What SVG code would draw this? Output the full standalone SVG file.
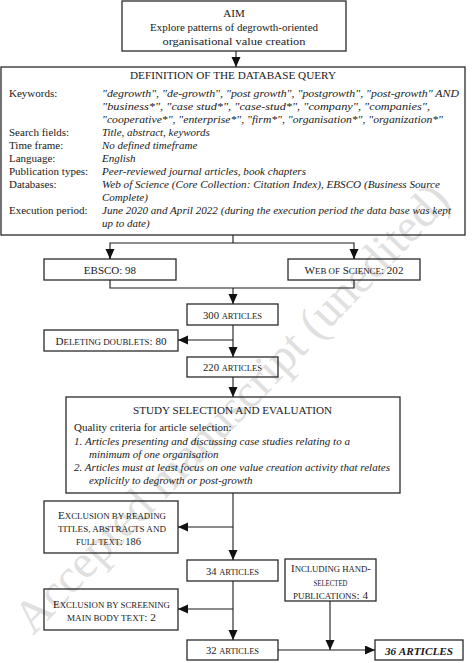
<svg xmlns="http://www.w3.org/2000/svg" width="474" height="663" viewBox="0 0 474 663">
<style>
text{font-family:"Liberation Serif","Times New Roman",serif;font-size:11px;fill:#1a1a1a}
.c{text-anchor:middle}
.i{font-style:italic}
.b{font-weight:bold}
.s{font-size:8.8px}
.box{fill:none;stroke:#2a2a2a;stroke-width:1.3}
.ln{fill:none;stroke:#1a1a1a;stroke-width:1.1}
.wm{font-size:47px;fill:#e0e0e0}
</style>
<defs>
<marker id="ah" markerUnits="userSpaceOnUse" markerWidth="10" markerHeight="10" refX="10" refY="4.5" orient="auto">
<path d="M0,0 L10,4.5 L0,9 z" fill="#111"/>
</marker>
</defs>
<rect width="474" height="663" fill="#fff"/>
<text class="wm" transform="translate(33,636) rotate(-46)">Accepted manuscript (unedited)</text>

<g id="aim">
<rect class="box" x="122" y="1" width="224" height="50"/>
<text class="c" x="234" y="17">AIM</text>
<text class="c" x="234" y="31" textLength="168" lengthAdjust="spacingAndGlyphs">Explore patterns of degrowth-oriented</text>
<text class="c" x="234" y="45" textLength="143" lengthAdjust="spacingAndGlyphs">organisational value creation</text>
</g>

<g id="query">
<rect class="box" x="1" y="67" width="464" height="168" stroke-width="1.6"/>
<text class="c" x="233" y="79" textLength="206" lengthAdjust="spacingAndGlyphs">DEFINITION OF THE DATABASE QUERY</text>
<text x="9" y="97">Keywords:</text>
<text class="i" x="102" y="97" textLength="357" lengthAdjust="spacingAndGlyphs">"degrowth", "de-growth", "post growth", "postgrowth", "post-growth" AND</text>
<text class="i" x="102" y="110" textLength="328" lengthAdjust="spacingAndGlyphs">"business*", "case stud*", "case-stud*", "company", "companies",</text>
<text class="i" x="102" y="123" textLength="341" lengthAdjust="spacingAndGlyphs">"cooperative*", "enterprise*", "firm*", "organisation*", "organization*"</text>
<text x="9" y="136">Search fields:</text>
<text class="i" x="102" y="136">Title, abstract, keywords</text>
<text x="9" y="149">Time frame:</text>
<text class="i" x="102" y="149">No defined timeframe</text>
<text x="9" y="162">Language:</text>
<text class="i" x="102" y="162">English</text>
<text x="9" y="175">Publication types:</text>
<text class="i" x="102" y="175" textLength="204" lengthAdjust="spacingAndGlyphs">Peer-reviewed journal articles, book chapters</text>
<text x="9" y="188">Databases:</text>
<text class="i" x="102" y="188" textLength="338" lengthAdjust="spacingAndGlyphs">Web of Science (Core Collection: Citation Index), EBSCO (Business Source</text>
<text class="i" x="102" y="201">Complete)</text>
<text x="9" y="214">Execution period:</text>
<text class="i" x="102" y="214" textLength="349" lengthAdjust="spacingAndGlyphs">June 2020 and April 2022 (during the execution period the data base was kept</text>
<text class="i" x="102" y="227">up to date)</text>
</g>

<g id="ebsco">
<rect class="box" x="44" y="259" width="132" height="21"/>
<text class="c" x="110" y="273.5">EBSCO: 98</text>
</g>
<g id="wos">
<rect class="box" x="288" y="259" width="132" height="21"/>
<text class="c" x="354" y="273.5" textLength="99" lengthAdjust="spacingAndGlyphs">W<tspan class="s">EB OF</tspan> S<tspan class="s">CIENCE</tspan>: 202</text>
</g>
<g id="n300">
<rect class="box" x="187" y="304" width="91" height="21"/>
<text class="c" x="232.5" y="318.5" textLength="59" lengthAdjust="spacingAndGlyphs">300 <tspan class="s">ARTICLES</tspan></text>
</g>
<g id="doublets">
<rect class="box" x="44" y="330" width="134" height="21"/>
<text class="c" x="111" y="344.5" textLength="111" lengthAdjust="spacingAndGlyphs">D<tspan class="s">ELETING DOUBLETS</tspan>: 80</text>
</g>
<g id="n220">
<rect class="box" x="187" y="357" width="91" height="20"/>
<text class="c" x="232.5" y="371" textLength="59" lengthAdjust="spacingAndGlyphs">220 <tspan class="s">ARTICLES</tspan></text>
</g>

<g id="selection">
<rect class="box" x="66" y="397" width="334" height="96"/>
<text class="c" x="232.5" y="414" textLength="199" lengthAdjust="spacingAndGlyphs">STUDY SELECTION AND EVALUATION</text>
<text x="74" y="431">Quality criteria for article selection:</text>
<text class="i" x="74" y="444.5" textLength="276" lengthAdjust="spacingAndGlyphs">1. Articles presenting and discussing case studies relating to a</text>
<text class="i" x="89" y="457.5">minimum of one organisation</text>
<text class="i" x="74" y="470.5" textLength="316" lengthAdjust="spacingAndGlyphs">2. Articles must at least focus on one value creation activity that relates</text>
<text class="i" x="89" y="483.5">explicitly to degrowth or post-growth</text>
</g>

<g id="excl1">
<rect class="box" x="44" y="501" width="134" height="52"/>
<text class="c" x="112" y="518.5" textLength="108" lengthAdjust="spacingAndGlyphs">E<tspan class="s">XCLUSION BY READING</tspan></text>
<text class="c" x="112" y="531.5" textLength="108" lengthAdjust="spacingAndGlyphs"><tspan class="s">TITLES, ABSTRACTS AND</tspan></text>
<text class="c" x="108.5" y="544.5" textLength="65" lengthAdjust="spacingAndGlyphs"><tspan class="s">FULL TEXT</tspan>: 186</text>
</g>
<g id="n34">
<rect class="box" x="187" y="560" width="91" height="21"/>
<text class="c" x="232.5" y="574.5" textLength="53" lengthAdjust="spacingAndGlyphs">34 <tspan class="s">ARTICLES</tspan></text>
</g>
<g id="including">
<rect class="box" x="285" y="559" width="91" height="42"/>
<text class="c" x="331" y="572" textLength="80" lengthAdjust="spacingAndGlyphs">I<tspan class="s">NCLUDING HAND</tspan>-</text>
<text class="c" x="330.5" y="585.5" textLength="34" lengthAdjust="spacingAndGlyphs"><tspan class="s">SELECTED</tspan></text>
<text class="c" x="330.5" y="598.5" textLength="75" lengthAdjust="spacingAndGlyphs"><tspan class="s">PUBLICATIONS</tspan>: 4</text>
</g>
<g id="excl2">
<rect class="box" x="44" y="589" width="134" height="41"/>
<text class="c" x="111.5" y="608" textLength="117" lengthAdjust="spacingAndGlyphs">E<tspan class="s">XCLUSION BY SCREENING</tspan></text>
<text class="c" x="111.5" y="621" textLength="89" lengthAdjust="spacingAndGlyphs"><tspan class="s">MAIN BODY TEXT</tspan>: 2</text>
</g>
<g id="n32">
<rect class="box" x="187" y="640" width="91" height="20"/>
<text class="c" x="232.5" y="654" textLength="53" lengthAdjust="spacingAndGlyphs">32 <tspan class="s">ARTICLES</tspan></text>
</g>
<g id="n36">
<rect class="box" x="375" y="640" width="88" height="20" stroke-width="1.6"/>
<text class="c i b" x="419" y="654.5" textLength="68" lengthAdjust="spacingAndGlyphs">36 ARTICLES</text>
</g>

<g id="connectors">
<line class="ln" x1="236" y1="51" x2="236" y2="67" marker-end="url(#ah)"/>
<polyline class="ln" points="233,235 233,243"/>
<polyline class="ln" points="110,259 110,243 354,243 354,259"/>
<line class="ln" x1="110" y1="250" x2="110" y2="259" marker-end="url(#ah)"/>
<line class="ln" x1="354" y1="250" x2="354" y2="259" marker-end="url(#ah)"/>
<polyline class="ln" points="110,280 110,288 354,288 354,280"/>
<line class="ln" x1="233" y1="288" x2="233" y2="304" marker-end="url(#ah)"/>
<line class="ln" x1="233" y1="325" x2="233" y2="357" marker-end="url(#ah)"/>
<line class="ln" x1="233" y1="340" x2="178" y2="340" marker-end="url(#ah)"/>
<line class="ln" x1="233" y1="377" x2="233" y2="397" marker-end="url(#ah)"/>
<line class="ln" x1="233" y1="493" x2="233" y2="560" marker-end="url(#ah)"/>
<line class="ln" x1="233" y1="527" x2="178" y2="527" marker-end="url(#ah)"/>
<line class="ln" x1="233" y1="581" x2="233" y2="640" marker-end="url(#ah)"/>
<line class="ln" x1="233" y1="609" x2="178" y2="609" marker-end="url(#ah)"/>
<line class="ln" x1="278" y1="650" x2="375" y2="650" marker-end="url(#ah)"/>
<line class="ln" x1="330" y1="601" x2="330" y2="650" marker-end="url(#ah)"/>
</g>
</svg>
